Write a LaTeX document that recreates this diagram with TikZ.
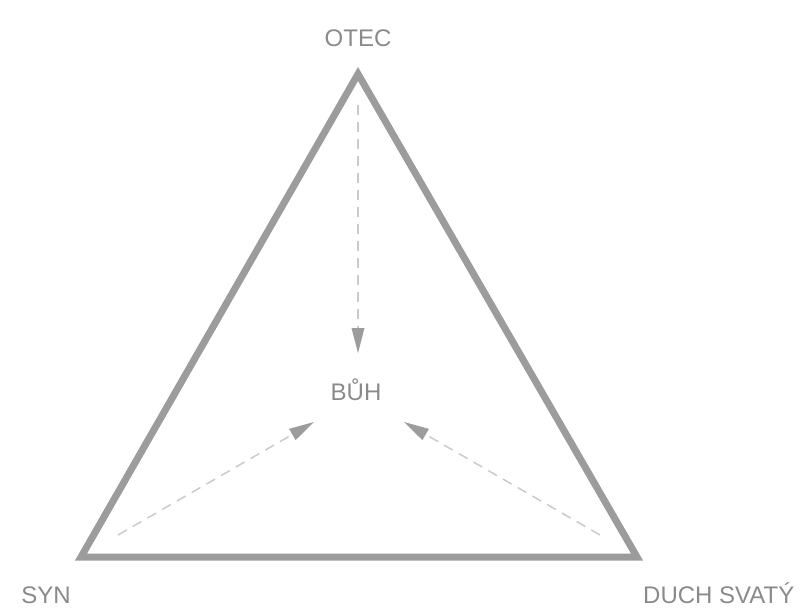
\documentclass[tikz,border=0pt]{standalone}
\usepackage{fontspec}
\setmainfont{Liberation Sans}
\usepackage{xcolor}
\usetikzlibrary{positioning, arrows.meta}

\definecolor{edgegrey}{HTML}{9C9C9C}
\definecolor{textgrey}{HTML}{8A8A8A}
\definecolor{dashgrey}{HTML}{CACACA}

\tikzset{
  nametext/.style={text=textgrey, inner sep=0pt, font=\fontsize{24}{28}\selectfont},
  side/.style={draw=edgegrey, line width=7pt, line join=miter},
  flow/.style={draw=dashgrey, line width=1.5pt, dash pattern=on 10pt off 7pt,
    -{Triangle[length=25pt, width=13pt, color=edgegrey, fill=edgegrey, line width=0pt]}},
}

\begin{document}
\begin{tikzpicture}[x=1pt, y=-1pt]
  \useasboundingbox (0,0) rectangle (805,612);
  % corners of the triangle
  \coordinate (otec) at (358,74);
  \coordinate (syn) at (81,557);
  \coordinate (duch) at (637,557);
  \draw[side] (otec) -- (syn) -- (duch) -- cycle;

  % names
  \node[nametext, anchor=base] (otectext) at (358,47) {OTEC};
  \node[nametext, anchor=base] (syntext) at (46,603) {SYN};
  \node[nametext, anchor=base west] (duchtext) at (643,603) {DUCH SVATÝ};
  \node[nametext, anchor=base] (buh) at (356,400) {BŮH};

  % arrows towards the centre
  \coordinate (otecfrom) at (358,105);
  \coordinate (otecto) at (358,353);
  \coordinate (synfrom) at (118,535);
  \coordinate (synto) at (314,422);
  \coordinate (duchfrom) at (600,535);
  \coordinate (duchto) at (404,422);
  \draw[flow] (otecfrom) -- (otecto);
  \draw[flow] (synfrom) -- (synto);
  \draw[flow] (duchfrom) -- (duchto);
\end{tikzpicture}
\end{document}
